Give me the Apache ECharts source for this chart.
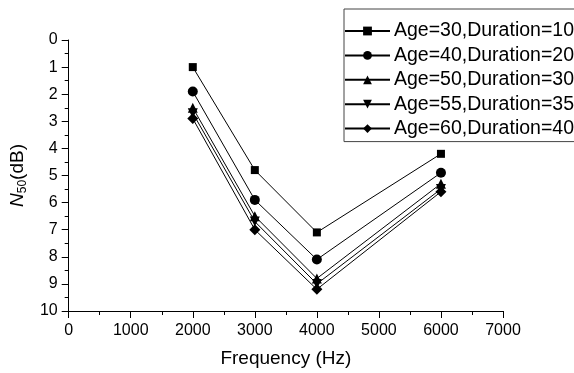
<!DOCTYPE html>
<html>
<head>
<meta charset="utf-8">
<script src="https://cdn.jsdelivr.net/npm/echarts@6/dist/echarts.min.js"></script>
<style>
  html, body { margin: 0; padding: 0; background: #fff; }
  #chart { width: 574px; height: 373px; }
</style>
</head>
<body>
<div id="chart"></div>
<script>
// frequencies (Hz)
const frequencies = [2000, 3000, 4000, 6000];
// N50 (dB) per age/duration group
const seriesNames = [
  "Age=30,Duration=10",
  "Age=40,Duration=20",
  "Age=50,Duration=30",
  "Age=55,Duration=35",
  "Age=60,Duration=40"
];
const age30 = [1.0, 4.8, 7.1, 4.2];
const age40 = [1.9, 5.9, 8.1, 4.9];
const age50 = [2.5, 6.5, 8.8, 5.3];
const age55 = [2.7, 6.7, 9.0, 5.5];
const age60 = [2.9, 7.0, 9.2, 5.6];
const xTicks = [0, 1000, 2000, 3000, 4000, 5000, 6000, 7000];
const yTicks = [0, 1, 2, 3, 4, 5, 6, 7, 8, 9, 10];

const FONT = "'Liberation Sans', Arial, sans-serif";
const chart = echarts.init(document.getElementById("chart"));

// 符号样式
const marks = [
  { symbol: "rect", size: 8, rotate: 0 },
  { symbol: "circle", size: 10, rotate: 0 },
  { symbol: "triangle", size: 10, rotate: 0 },
  { symbol: "triangle", size: 10, rotate: 180 },
  { symbol: "diamond", size: 11, rotate: 0 }
];
const values = [age30, age40, age50, age55, age60];

const series = values.map((vals, i) => ({
  name: seriesNames[i],
  type: "line",
  data: vals.map((v, j) => [frequencies[j], v]),
  symbol: marks[i].symbol,
  symbolSize: marks[i].size,
  symbolRotate: marks[i].rotate,
  lineStyle: { color: "#000", width: 1 },
  itemStyle: { color: "#000" },
  z: 5 - i,
  animation: false
}));

const option = {
  animation: false,
  textStyle: { fontFamily: FONT },
  grid: { left: 65, right: 71, top: 40, bottom: 61 },
  legend: {
    data: seriesNames,
    orient: "vertical",
    left: 344,
    top: 9,
    padding: [12, 40, 3, 0],
    itemWidth: 45,
    itemHeight: 11,
    itemGap: 4.4,
    borderColor: "#444",
    borderWidth: 1,
    backgroundColor: "#fff",
    textStyle: { color: "#000", fontSize: 19.5, lineHeight: 19, fontFamily: FONT, padding: [0, 0, 0, -1] }
  },
  xAxis: {
    type: "value",
    min: xTicks[0],
    max: xTicks[xTicks.length - 1],
    interval: 1000,
    name: "Frequency (Hz)",
    nameLocation: "middle",
    nameGap: 38,
    nameTextStyle: { color: "#000", fontSize: 19, fontFamily: FONT },
    axisLine: { onZero: false, lineStyle: { color: "#000", width: 1 } },
    axisTick: { inside: false, length: 7, lineStyle: { color: "#000" } },
    minorTick: { show: true, splitNumber: 2, length: 4, lineStyle: { color: "#000" } },
    axisLabel: { color: "#000", fontSize: 16, margin: 12, fontFamily: FONT, formatter: (v) => String(v) },
    splitLine: { show: false }
  },
  yAxis: {
    type: "value",
    inverse: true,
    min: yTicks[0],
    max: yTicks[yTicks.length - 1],
    interval: 1,
    name: "{i|N}{sub|50}{n|(dB)}",
    nameLocation: "middle",
    nameGap: 38,
    nameTextStyle: {
      color: "#000",
      fontFamily: FONT,
      rich: {
        i: { fontSize: 19, fontStyle: "italic", fontFamily: FONT, color: "#000", lineHeight: 22 },
        sub: { fontSize: 12, fontFamily: FONT, color: "#000", verticalAlign: "bottom", lineHeight: 22, padding: [9, 0, 0, 0] },
        n: { fontSize: 19, fontFamily: FONT, color: "#000", lineHeight: 22 }
      }
    },
    axisLine: { onZero: false, lineStyle: { color: "#000", width: 1 } },
    axisTick: { inside: false, length: 7, lineStyle: { color: "#000" } },
    minorTick: { show: true, splitNumber: 2, length: 4, lineStyle: { color: "#000" } },
    axisLabel: { color: "#000", fontSize: 16, margin: 11, fontFamily: FONT, formatter: (v) => String(v) },
    splitLine: { show: false }
  },
  series: series
};

chart.setOption(option);
window.addEventListener("resize", () => chart.resize());
</script>
</body>
</html>
